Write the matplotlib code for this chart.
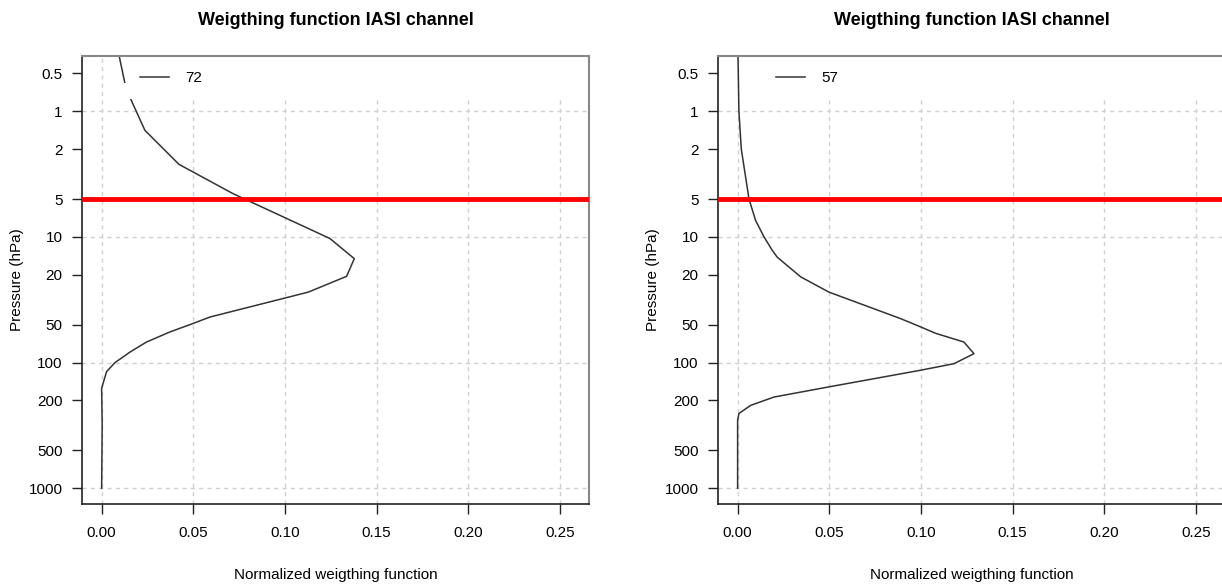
import matplotlib
matplotlib.use('Agg')
import matplotlib.pyplot as plt
from matplotlib.patches import Rectangle
import numpy as np

plt.rcParams['font.family'] = ['Liberation Sans', 'DejaVu Sans']

# channel 72 weighting function (pressure hPa, normalized weight)
p72 = [0.36, 0.6, 0.78, 1.42, 2.65, 4.54, 10.3, 14.9, 20.6, 27.5, 43.4, 50, 57,
       68.6, 82.4, 100, 118, 160, 300, 500, 700, 1000]
w72 = [0.0095, 0.0127, 0.0155, 0.0236, 0.0422, 0.0718, 0.1245, 0.1378, 0.1336,
       0.1127, 0.0591, 0.048, 0.0373, 0.0245, 0.0155, 0.0073, 0.0027, 0.0,
       0.0003, 0.0002, 0.0001, 0.0]

# channel 57 weighting function
p57 = [0.36, 1, 2, 5, 7.4, 10, 12.8, 14.5, 20.8, 27.5, 44.7, 52, 58.5, 68.6,
       84.9, 102, 115, 156, 188, 219, 254, 287, 500, 1000]
w57 = [0.0002, 0.0007, 0.002, 0.0062, 0.0098, 0.0144, 0.0189, 0.0216, 0.0344,
       0.0498, 0.0889, 0.0998, 0.108, 0.1234, 0.1289, 0.118, 0.0998, 0.0498,
       0.0198, 0.0071, 0.0007, 0.0, 0.0, 0.0]

channels = ['72', '57']
ref_level = 5.0

yticks = [0.5, 1, 2, 5, 10, 20, 50, 100, 200, 500, 1000]
ytick_labels = ['0.5', '1', '2', '5', '10', '20', '50', '100', '200', '500', '1000']
xticks = [0.00, 0.05, 0.10, 0.15, 0.20, 0.25]
xtick_labels = ['0.00', '0.05', '0.10', '0.15', '0.20', '0.25']
hgrid = [1, 10, 100, 1000]

XLIM = (-0.0107, 0.2658)
YLIM = (1333, 0.364)
CURVE = '#333333'
GRID = '#d0d0d0'
W, H = 1222, 584

fig = plt.figure(figsize=(W / 100, H / 100), dpi=100)
ax1 = fig.add_axes([82 / W, 1 - 504 / H, 507 / W, 448 / H])
ax2 = fig.add_axes([718 / W, 1 - 504 / H, 507 / W, 448 / H])

for ax, p, w, ch in [(ax1, p72, w72, channels[0]), (ax2, p57, w57, channels[1])]:
    ax.set_yscale('log')
    ax.set_xlim(*XLIM)
    ax.set_ylim(*YLIM)

    # dotted grid (verticals stop below the legend area)
    for xt in xticks:
        top = YLIM[1] if xt == 0 else 0.82
        ax.vlines(xt, YLIM[0], top, colors=GRID, linestyles=(0, (3, 3)), lw=1, zorder=1)
    for yt in hgrid:
        ax.axhline(yt, color=GRID, linestyle=(0, (3, 3)), lw=1, zorder=1)

    ax.plot(w, p, color=CURVE, lw=1.1, zorder=2, label=ch)
    ax.axhline(ref_level, color='#ff0000', lw=3.5, zorder=4)

    # white legend background patch (kept under the spines)
    ax.add_patch(Rectangle((0.011, 0.6), 0.25, 0.2, facecolor='white',
                           edgecolor='none', zorder=2.3))

    leg = ax.legend(loc='center left', bbox_to_anchor=(0.114, 0.951), frameon=False,
                    handlelength=1.9, handletextpad=1.1, borderpad=0,
                    borderaxespad=0, fontsize=11)
    leg.set_zorder(5)

    ax.set_yticks(yticks)
    ax.set_yticklabels(ytick_labels)
    ax.yaxis.set_minor_locator(matplotlib.ticker.NullLocator())
    ax.set_xticks(xticks)
    ax.set_xticklabels(xtick_labels)
    ax.tick_params(axis='both', labelsize=11, length=7, width=1, color='#222222')
    ax.tick_params(axis='y', pad=7)
    ax.tick_params(axis='x', pad=9)

    for s in ['left', 'bottom']:
        ax.spines[s].set_color('#222222')
        ax.spines[s].set_linewidth(1.2)
    for s in ['top', 'right']:
        ax.spines[s].set_color('#888888')
        ax.spines[s].set_linewidth(1.5)

    ax.set_title('Weigthing function IASI channel', fontsize=13, fontweight='bold', pad=22)
    ax.set_xlabel('Normalized weigthing function', fontsize=11, labelpad=20)
    ax.set_ylabel('Pressure (hPa)', fontsize=11, labelpad=3)

fig.savefig('out.png', dpi=100)
